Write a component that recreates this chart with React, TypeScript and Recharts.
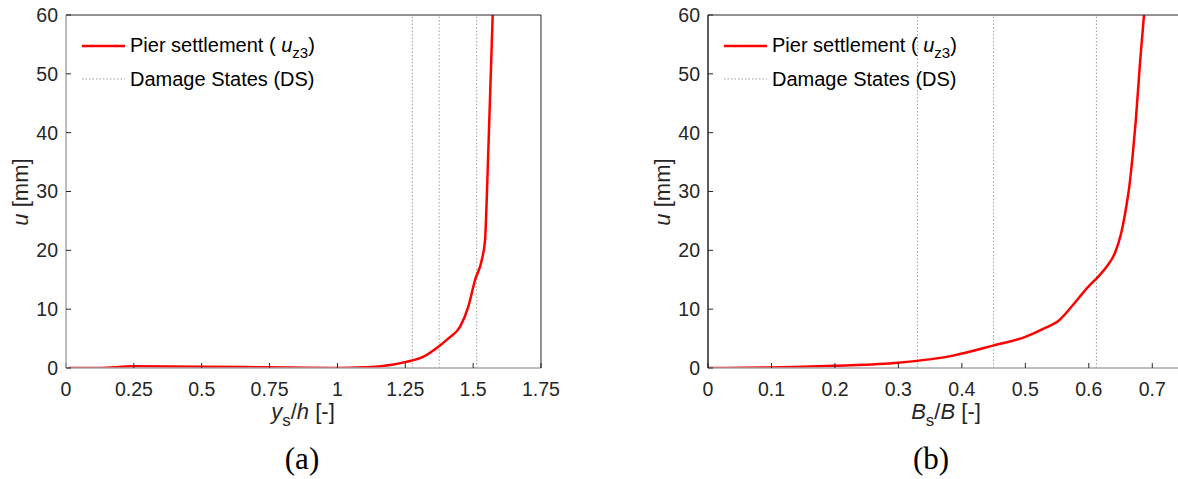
import React from 'react';
import { LineChart, Line, XAxis, YAxis, ReferenceLine } from 'recharts';

// Panel (a): y_s/h vs u
const leftX = [0.01, 0.12, 0.25, 0.5, 0.75, 1.0, 1.1, 1.16, 1.25, 1.317, 1.372, 1.409, 1.452, 1.482, 1.507, 1.532, 1.544, 1.55, 1.556, 1.562, 1.572];
const leftU = [0, 0, 0.28, 0.23, 0.11, 0, 0.12, 0.3, 1.0, 1.93, 3.63, 5.04, 7.03, 10.4, 14.96, 18.4, 21.8, 28.6, 37.1, 45.6, 60];
const leftDS = [1.276, 1.375, 1.513];
const leftTicks = [0, 0.25, 0.5, 0.75, 1, 1.25, 1.5, 1.75];

// Panel (b): B_s/B vs u
const rightX = [0, 0.1, 0.199, 0.3, 0.386, 0.449, 0.5, 0.533, 0.552, 0.575, 0.599, 0.612, 0.628, 0.641, 0.651, 0.659, 0.664, 0.669, 0.674, 0.681, 0.687];
const rightU = [0, 0.1, 0.4, 0.9, 2.1, 3.8, 5.3, 6.9, 8.0, 10.7, 13.8, 15.2, 17.2, 19.5, 22.9, 27.4, 31, 36, 42, 52.3, 60];
const rightDS = [0.33, 0.45, 0.612];
const rightTicks = [0, 0.1, 0.2, 0.3, 0.4, 0.5, 0.6, 0.7];

const yTicks = [0, 10, 20, 30, 40, 50, 60];

const legendLabels = ['Pier settlement ( ', 'Damage States (DS)'];

const FONT = '"Liberation Sans", Arial, sans-serif';
const DARK = '#262626';
const GRAY_AXIS = '#a8a8a8';

type PanelProps = {
  xs: number[];
  us: number[];
  ds: number[];
  xDomain: [number, number];
  xTicks: number[];
  left: number;
  width: number;
  margin: { top: number; left: number; right: number; bottom: number };
  leftAxisColor: string;
};

function Panel({ xs, us, ds, xDomain, xTicks, left, width, margin, leftAxisColor }: PanelProps) {
  const data = xs.map((x, i) => ({ x, u: us[i] }));
  const tickStyle = { fill: DARK, fontSize: 19.5, fontFamily: FONT };
  return (
    <div style={{ position: 'absolute', left, top: 0 }}>
      <LineChart width={width} height={479} data={data} margin={margin}>
        <XAxis
          xAxisId="b"
          type="number"
          dataKey="x"
          domain={xDomain}
          ticks={xTicks}
          interval={0}
          height={1}
          tickSize={-5}
          tickMargin={19}
          axisLine={{ stroke: GRAY_AXIS, strokeWidth: 1.5 }}
          tickLine={{ stroke: DARK }}
          tick={tickStyle}
          allowDataOverflow
        />
        <XAxis
          xAxisId="t"
          orientation="top"
          type="number"
          dataKey="x"
          domain={xDomain}
          ticks={xTicks}
          interval={0}
          height={1}
          tickSize={-5}
          axisLine={{ stroke: DARK }}
          tickLine={{ stroke: DARK }}
          tick={false}
          allowDataOverflow
        />
        <YAxis
          yAxisId="l"
          type="number"
          domain={[0, 60]}
          ticks={yTicks}
          interval={0}
          width={1}
          tickSize={-5}
          tickMargin={13}
          axisLine={{ stroke: leftAxisColor, strokeWidth: 1.5 }}
          tickLine={{ stroke: DARK }}
          tick={tickStyle}
          allowDataOverflow
        />
        <YAxis
          yAxisId="r"
          orientation="right"
          type="number"
          domain={[0, 60]}
          ticks={yTicks}
          interval={0}
          width={1}
          tickSize={-5}
          axisLine={{ stroke: DARK }}
          tickLine={{ stroke: DARK }}
          tick={false}
          allowDataOverflow
        />
        {ds.map((v) => (
          <ReferenceLine
            key={v}
            xAxisId="b"
            yAxisId="l"
            x={v}
            stroke="#a0a0a0"
            strokeWidth={1}
            strokeDasharray="1.5 2"
          />
        ))}
        <Line
          xAxisId="b"
          yAxisId="l"
          type="monotone"
          dataKey="u"
          stroke="#ff0000"
          strokeWidth={2.5}
          dot={false}
          activeDot={false}
          isAnimationActive={false}
        />
      </LineChart>
    </div>
  );
}

function Legend({ x }: { x: number }) {
  return (
    <g fontFamily={FONT} fontSize={20} fill="#000">
      <line x1={x} x2={x + 43} y1={46} y2={46} stroke="#ff0000" strokeWidth={2.5} />
      <text x={x + 48} y={52}>
        {legendLabels[0]}
        <tspan fontStyle="italic">u</tspan>
        <tspan fontSize={15} dy={6}>z3</tspan>
        <tspan dy={-6}>)</tspan>
      </text>
      <line x1={x} x2={x + 43} y1={79} y2={79} stroke="#a0a0a0" strokeWidth={1} strokeDasharray="1.5 2" />
      <text x={x + 48} y={86}>{legendLabels[1]}</text>
    </g>
  );
}

function YTitle({ x }: { x: number }) {
  return (
    <text transform={`translate(${x},192) rotate(-90)`} textAnchor="middle" fontFamily={FONT} fontSize={22} fill={DARK}>
      <tspan fontStyle="italic">u</tspan>
      <tspan> [mm]</tspan>
    </text>
  );
}

export default function App() {
  return (
    <div style={{ position: 'absolute', left: 0, top: 0, width: 1178, height: 479, overflow: 'hidden', background: '#fff' }}>
      <Panel
        xs={leftX}
        us={leftU}
        ds={leftDS}
        xDomain={[0, 1.75]}
        xTicks={leftTicks}
        left={0}
        width={560}
        margin={{ top: 14, left: 65, right: 18, bottom: 110 }}
        leftAxisColor={GRAY_AXIS}
      />
      <Panel
        xs={rightX}
        us={rightU}
        ds={rightDS}
        xDomain={[0, 0.75]}
        xTicks={rightTicks}
        left={620}
        width={600}
        margin={{ top: 14, left: 87, right: 35, bottom: 110 }}
        leftAxisColor={DARK}
      />
      <svg width={1178} height={479} style={{ position: 'absolute', left: 0, top: 0, pointerEvents: 'none' }}>
        <Legend x={82} />
        <Legend x={724} />
        <YTitle x={28} />
        <YTitle x={670} />
        <text x={303} y={419} textAnchor="middle" fontFamily={FONT} fontSize={22} fill={DARK}>
          <tspan fontStyle="italic">y</tspan>
          <tspan fontSize={17} dy={7}>s</tspan>
          <tspan dy={-7}>/</tspan>
          <tspan fontStyle="italic">h</tspan>
          <tspan> [-]</tspan>
        </text>
        <text x={946} y={419} textAnchor="middle" fontFamily={FONT} fontSize={22} fill={DARK}>
          <tspan fontStyle="italic">B</tspan>
          <tspan fontSize={17} dy={7}>s</tspan>
          <tspan dy={-7}>/</tspan>
          <tspan fontStyle="italic">B</tspan>
          <tspan> [-]</tspan>
        </text>
        <text x={302} y={469} textAnchor="middle" fontFamily='"Liberation Serif", "Times New Roman", serif' fontSize={31} fill="#000">(a)</text>
        <text x={931} y={469} textAnchor="middle" fontFamily='"Liberation Serif", "Times New Roman", serif' fontSize={31} fill="#000">(b)</text>
      </svg>
    </div>
  );
}
